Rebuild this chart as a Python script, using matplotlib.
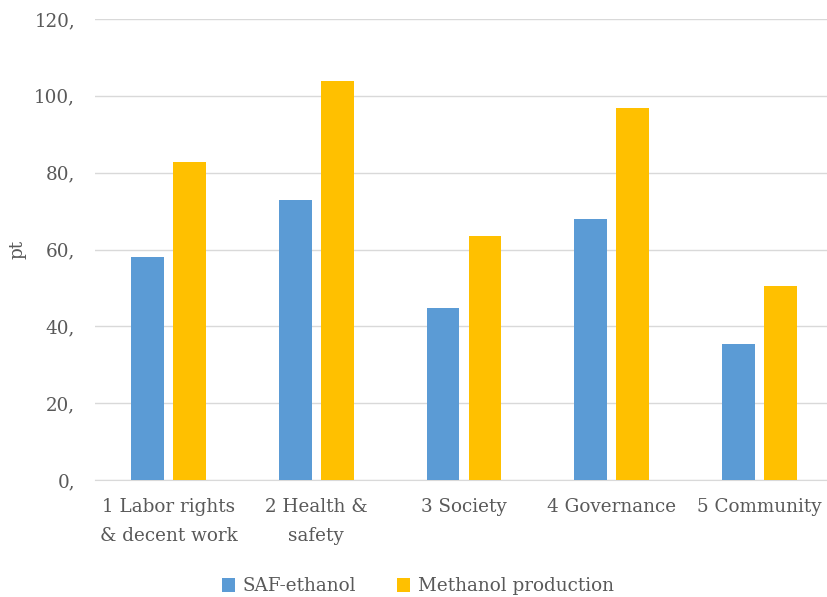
import numpy as np
import matplotlib.pyplot as plt

categories = ["1 Labor rights\n& decent work", "2 Health &\nsafety", "3 Society",
              "4 Governance", "5 Community"]
saf_ethanol = [58.0, 72.9, 44.8, 68.0, 35.4]
methanol = [82.7, 103.9, 63.5, 96.9, 50.4]
yticks = [0, 20, 40, 60, 80, 100, 120]

plt.rcParams['font.family'] = ['DejaVu Serif']
grey = '#595959'
fs = 13.2

fig = plt.figure(figsize=(8.27, 5.97), dpi=100)
ax = fig.add_axes([94.6/827, 117/597, 738.8/827, 461/597])

x = np.arange(len(categories))
w = 0.223
off = 0.142
ax.bar(x - off, saf_ethanol, w, color='#5b9bd5', label='SAF-ethanol', zorder=3)
ax.bar(x + off, methanol, w, color='#ffc000', label='Methanol production', zorder=3)

ax.set_xlim(-0.5, len(categories) - 0.5)
ax.set_ylim(0, 120)
ax.set_yticks(yticks)
ax.set_yticklabels([f"{v}," for v in yticks], color=grey, fontsize=fs)
ax.set_xticks(x)
ax.set_xticklabels(categories, color=grey, fontsize=fs, linespacing=1.75)
ax.tick_params(length=0, axis='y', pad=14)
ax.tick_params(length=0, axis='x', pad=13)
ax.grid(axis='y', color='#d9d9d9', linewidth=1, zorder=0)
for s in ax.spines.values():
    s.set_visible(False)
ax.spines['bottom'].set_visible(True)
ax.spines['bottom'].set_color('#d9d9d9')

ax.set_ylabel('pt', color=grey, fontsize=fs)
ax.yaxis.set_label_coords(-68/738.8, 0.5)

fig.legend(loc='lower center', bbox_to_anchor=(0.505, -0.025), ncol=2, frameon=False,
           fontsize=fs, labelcolor=grey, handlelength=0.75, handleheight=0.75,
           handletextpad=0.4, columnspacing=2.2)

fig.savefig('out.png', dpi=100)
